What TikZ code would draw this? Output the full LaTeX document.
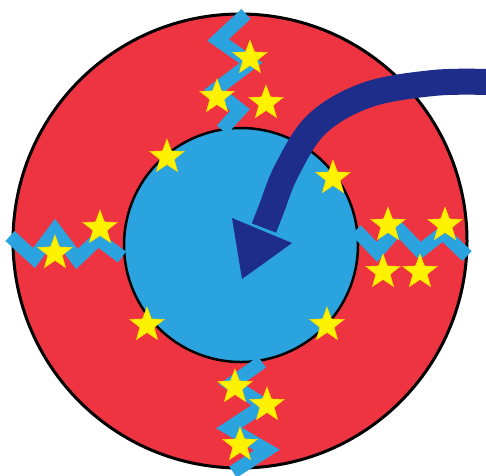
\documentclass[tikz,border=0pt]{standalone}
\usepackage{tikz}
\usetikzlibrary{shapes.geometric}
\definecolor{ringred}{HTML}{EE3440}
\definecolor{coreblue}{HTML}{2AA3DF}
\definecolor{arrowblue}{HTML}{1F2D8A}
\definecolor{staryellow}{HTML}{FFF200}

\begin{document}
\begin{tikzpicture}[x=1pt, y=-1pt,
    ring/.style={circle, fill=ringred, draw=black, line width=3pt, inner sep=0pt},
    core/.style={circle, fill=coreblue, draw=black, line width=2.5pt, inner sep=0pt},
    zigzag/.style={draw=coreblue, line width=13.5pt, line join=miter},
    starmark/.style={star, star points=5, star point ratio=2.4, fill=staryellow, draw=staryellow!80!orange, line width=0.5pt, minimum size=36pt, inner sep=0pt},
    bigarrow/.style={draw=arrowblue, line width=26pt}]
    \useasboundingbox (0,0) rectangle (486,475);
    % Circles
    \node[ring, minimum size=454pt] (outer) at (240,241) {};
    \node[core, minimum size=234pt] (inner) at (241,245) {};

    % Zigzags
    \draw[zigzag] (246,14) -- (218,40) -- (251,63) -- (215,90) -- (240,110) -- (222,130);
    \draw[zigzag] (10,236) -- (34,258) -- (55,230) -- (77,259) -- (98,239) -- (122,257);
    \draw[zigzag] (356,230) -- (377,252) -- (398,228) -- (420,251) -- (443,233) -- (467,256);
    \draw[zigzag] (262,362) -- (231,384) -- (264,405) -- (229,428) -- (267,450) -- (233,472);

    % Stars
    \node[starmark] (top1) at (250,58) {};
    \node[starmark] (top2) at (217,97) {};
    \node[starmark] (top3) at (266,103) {};
    \node[starmark] (left1) at (55,253) {};
    \node[starmark] (left2) at (100,228) {};
    \node[starmark] (right1) at (388,225) {};
    \node[starmark] (right2) at (445,225) {};
    \node[starmark] (right3) at (383,272) {};
    \node[starmark] (right4) at (420,272) {};
    \node[starmark] (bottom1) at (235,387) {};
    \node[starmark] (bottom2) at (267,405) {};
    \node[starmark] (bottom3) at (240,445) {};
    \node[starmark] (rim1) at (167,157) {};
    \node[starmark] (rim2) at (333,178) {};
    \node[starmark] (rim3) at (147,325) {};
    \node[starmark] (rim4) at (327,325) {};

    % Arrow
    \coordinate (tipleft) at (232,218);
    \coordinate (tipright) at (292,243);
    \coordinate (tip) at (242,279);
    \draw[bigarrow] plot[smooth, tension=0.6] coordinates {(487,82) (433,83) (367,95) (317,124) (287,170) (271,210) (264,228)};
    \fill[arrowblue] (tipleft) -- (tipright) -- (tip) -- cycle;
\end{tikzpicture}
\end{document}
